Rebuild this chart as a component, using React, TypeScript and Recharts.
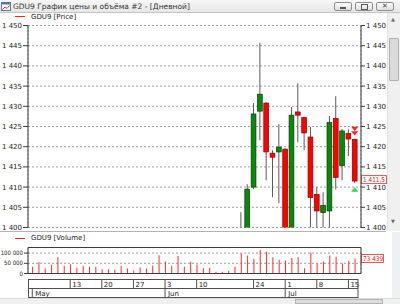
import { ComposedChart, Bar, XAxis, YAxis, CartesianGrid, ReferenceLine } from 'recharts'

// trading days shown in the window (May 2 .. Jul 16)
const dates = [
  '2019-05-02', '2019-05-03', '2019-05-06', '2019-05-07', '2019-05-08', '2019-05-10',
  '2019-05-13', '2019-05-14', '2019-05-15', '2019-05-16', '2019-05-17',
  '2019-05-20', '2019-05-21', '2019-05-22', '2019-05-23', '2019-05-24',
  '2019-05-27', '2019-05-28', '2019-05-29', '2019-05-30', '2019-05-31',
  '2019-06-03', '2019-06-04', '2019-06-05', '2019-06-06', '2019-06-07',
  '2019-06-10', '2019-06-11', '2019-06-13', '2019-06-14',
  '2019-06-17', '2019-06-18', '2019-06-19', '2019-06-20', '2019-06-21',
  '2019-06-24', '2019-06-25', '2019-06-26', '2019-06-27', '2019-06-28',
  '2019-07-01', '2019-07-02', '2019-07-03', '2019-07-04', '2019-07-05',
  '2019-07-08', '2019-07-09', '2019-07-10', '2019-07-11', '2019-07-12',
  '2019-07-15', '2019-07-16',
]

const opens = [
  1283, 1285, 1282, 1287, 1286, 1289, 1288, 1302, 1296, 1298, 1292, 1288, 1284, 1282, 1285, 1284,
  1286, 1285, 1281, 1284, 1296, 1309, 1326, 1328, 1335, 1345, 1338, 1332, 1334, 1345, 1344, 1340,
  1347, 1360, 1393, 1410, 1428.8, 1430.8, 1418.4, 1418.7, 1419.4, 1397, 1428.6, 1427.2, 1422.4, 1408.2,
  1403.7, 1404.1, 1427, 1415.3, 1423.3, 1421.8,
]
const highs = [
  1288, 1287, 1289, 1291, 1290, 1292, 1305, 1304, 1300, 1299, 1294, 1290, 1287, 1287, 1288, 1288,
  1288, 1287, 1286, 1299, 1311, 1330, 1332, 1337, 1348, 1348, 1340, 1336, 1347, 1348, 1346, 1350,
  1366, 1403.8, 1410.7, 1430.8, 1445.7, 1431, 1419.1, 1425.6, 1419.6, 1429.8, 1435.7, 1427.4, 1424.9, 1410,
  1408.7, 1427.6, 1432.5, 1424.4, 1424.3, 1422,
]
const lows = [
  1279, 1280, 1281, 1284, 1283, 1285, 1287, 1294, 1292, 1290, 1286, 1282, 1279, 1280, 1280, 1282,
  1283, 1279, 1280, 1283, 1294, 1308, 1320, 1325, 1331, 1336, 1330, 1325, 1332, 1341, 1337, 1338,
  1345, 1357, 1389, 1409.5, 1421.6, 1411.7, 1407.5, 1406, 1392, 1394, 1421.1, 1419.1, 1398.5, 1398,
  1398.5, 1399, 1409.4, 1411.7, 1417.7, 1411,
]
const closes = [
  1285, 1282, 1287, 1286, 1289, 1288, 1302, 1296, 1298, 1292, 1288, 1284, 1282, 1285, 1284, 1286,
  1285, 1281, 1284, 1296, 1309, 1326, 1328, 1335, 1345, 1338, 1332, 1334, 1345, 1344, 1340, 1347,
  1360, 1393, 1409.5, 1428.1, 1433, 1418.7, 1417.4, 1419.9, 1396, 1427.8, 1427.8, 1423.4, 1407.4, 1404.1,
  1405.5, 1426, 1412.4, 1423.9, 1421.9, 1411.5,
]
const volumes = [
  32800, 55700, 24600, 42600, 80300, 37700, 45900, 27900, 37700, 32800, 32800, 21300, 21300, 18000,
  37700, 24600, 14800, 29500, 24600, 39300, 90100, 59000, 37700, 86900, 32800, 57400, 44300, 26200,
  27900, 8200, 8200, 13100, 32800, 98300, 88500, 72100, 114700, 106500, 80300, 67200, 63900, 75400,
  80300, 26200, 101600, 49200, 59000, 88500, 82000, 49200, 62300, 73439,
]

const weekTicks = [
  '2019-05-13', '2019-05-20', '2019-05-27', '2019-06-03', '2019-06-10',
  '2019-06-24', '2019-07-01', '2019-07-08', '2019-07-15',
]
const monthTicks = ['2019-05-02', '2019-06-03', '2019-07-01']
const monthNames = ['May', 'Jun', 'Jul']

const priceTicks = [1400, 1405, 1410, 1415, 1420, 1425, 1430, 1435, 1440, 1445, 1450]
const volumeTicks = [0, 50000, 100000]

const lastPrice = 1411.5
const lastVolume = 73439
const markDate = '2019-07-16'
const sellMarks = [1424.4, 1423.3]
const buyMarks = [1409.4]

const priceDomain = [1400, 1450]
const volumeDomain = [0, 127500]
const minorPrice = Array.from({ length: 51 }, (_, i) => 1400 + i)
const minorVolume = Array.from({ length: 13 }, (_, i) => i * 10000)

const rows = dates.map((date, i) => ({
  date,
  open: opens[i],
  high: highs[i],
  low: lows[i],
  close: closes[i],
  range: [lows[i], highs[i]],
  volume: volumes[i],
  sell: date === markDate ? sellMarks : null,
  buy: date === markDate ? buyMarks : null,
}))

const FONT = '"DejaVu Sans", sans-serif'
const NARROW = '"DejaVu Sans Condensed", "DejaVu Sans", sans-serif'
const AXIS = '#3c3c3c'
const xPad = { left: 1.1, right: 3.1 }
const tickStyle = { fontSize: 7, fill: '#1c1c1c', fontFamily: FONT }
const volTickStyle = { fontSize: 6, fill: '#1c1c1c', fontFamily: NARROW }

// thousands separated by a no-break space so the tick text never wraps
const spaced = (v: number) => String(v).replace(/\B(?=(\d{3})+(?!\d))/g, '\u00a0')

function Candle(props: any) {
  const { x, y, width, height, payload } = props
  if (x == null || !payload) return null
  const top = Math.min(y, y + height)
  const h = Math.abs(height)
  const k = payload.high > payload.low ? h / (payload.high - payload.low) : 0
  const py = (v: number) => top + (payload.high - v) * k
  const cx = x + width / 2
  const up = payload.close >= payload.open
  const bTop = py(Math.max(payload.open, payload.close))
  const bBot = py(Math.min(payload.open, payload.close))
  return (
    <g>
      <line x1={cx} x2={cx} y1={top} y2={top + h} stroke="#5a5a5a" strokeWidth={1} />
      <rect
        x={cx - 2.4}
        y={bTop}
        width={4.8}
        height={Math.max(bBot - bTop, 1.2)}
        fill={up ? '#078a07' : '#ff0000'}
        stroke={up ? '#0b3d0b' : '#8c0000'}
        strokeWidth={0.7}
      />
      {(payload.sell || []).map((m: number, i: number) => {
        const my = py(m)
        return <polygon key={'s' + i} points={`${cx - 3.6},${my - 2.2} ${cx + 3.6},${my - 2.2} ${cx},${my + 2.2}`} fill="#ff2020" />
      })}
      {(payload.buy || []).map((m: number, i: number) => {
        const my = py(m)
        return <polygon key={'b' + i} points={`${cx - 3.6},${my + 2.2} ${cx + 3.6},${my + 2.2} ${cx},${my - 2.2}`} fill="#22dd44" />
      })}
    </g>
  )
}

function Tag({ viewBox, text, w, lift = 0 }: any) {
  if (!viewBox) return null
  const x = viewBox.x + viewBox.width + 0.5
  const y = viewBox.y - 4 - lift
  return (
    <g>
      <rect x={x} y={y} width={w} height={8} fill="#fff" stroke="#e03030" strokeWidth={0.8} />
      <text x={x + 1.5} y={y + 6.4} fontSize={6.4} fontFamily={NARROW} fill="#e02020">{text}</text>
    </g>
  )
}

function DayTick({ x, y, payload }: any) {
  return (
    <g>
      <line x1={x} x2={x} y1={y} y2={y + 9} stroke="#505050" />
      <text x={x + 2} y={y + 7.3} fontSize={7} fontFamily={FONT} fill="#1c1c1c">{Number(payload.value.slice(8))}</text>
    </g>
  )
}

function MonthTick({ x, y, payload }: any) {
  return (
    <g>
      <line x1={x} x2={x} y1={y} y2={y + 9} stroke="#505050" />
      <text x={x + 3} y={y + 7.3} fontSize={7} fontFamily={FONT} fill="#1c1c1c">
        {monthNames[monthTicks.indexOf(payload.value)]}
      </text>
    </g>
  )
}

function Btn({ left, children }: any) {
  return (
    <div style={{
      position: 'absolute', left, top: 2, width: 18, height: 9, boxSizing: 'border-box',
      border: '1px solid #8e8e8e', borderRadius: 2, background: 'linear-gradient(#fdfdfd, #dedede)',
      display: 'flex', alignItems: 'center', justifyContent: 'center',
    }}>{children}</div>
  )
}

export default function App() {
  return (
    <div style={{ position: 'fixed', left: 0, top: 0, width: 400, height: 304, background: '#fff', overflow: 'hidden', fontFamily: FONT }}>
      {/* price panel */}
      <div style={{ position: 'absolute', left: 0, top: 0 }}>
        <ComposedChart width={400} height={232} data={rows} margin={{ top: 25.5, right: 0, bottom: 4.5, left: 0 }}>
          <CartesianGrid stroke="#9c9c9c" strokeDasharray="2 2" />
          <XAxis dataKey="date" height={0} ticks={weekTicks} interval={0} tick={false} tickLine={false} axisLine={{ stroke: AXIS }} padding={xPad} />
          <YAxis yAxisId="lm" width={0} domain={priceDomain} ticks={minorPrice} interval={0} tick={false} tickSize={2.5} tickLine={{ stroke: AXIS }} axisLine={false} allowDataOverflow />
          <YAxis domain={priceDomain} ticks={priceTicks} interval={0} width={28} tickSize={5} tickMargin={1} tick={tickStyle} tickFormatter={spaced} tickLine={{ stroke: AXIS }} axisLine={{ stroke: AXIS }} allowDataOverflow />
          <YAxis yAxisId="rm" orientation="right" width={0} domain={priceDomain} ticks={minorPrice} interval={0} tick={false} tickSize={2.5} tickLine={{ stroke: AXIS }} axisLine={false} allowDataOverflow />
          <YAxis yAxisId="r" orientation="right" domain={priceDomain} ticks={priceTicks} interval={0} width={39} tickSize={4} tickMargin={1} tick={tickStyle} tickFormatter={spaced} tickLine={{ stroke: AXIS }} axisLine={{ stroke: AXIS }} allowDataOverflow />
          <Bar dataKey="range" shape={<Candle />} isAnimationActive={false} />
          <ReferenceLine y={lastPrice} strokeOpacity={0} label={(p: any) => <Tag viewBox={p.viewBox} text={'1\u00a0411,5'} w={25} lift={1.4} />} />
        </ComposedChart>
      </div>

      {/* volume panel */}
      <div style={{ position: 'absolute', left: 0, top: 232 }}>
        <ComposedChart width={400} height={68} data={rows} margin={{ top: 15.5, right: 0, bottom: 2.5, left: 0 }}>
          <CartesianGrid stroke="#9c9c9c" strokeDasharray="2 2" />
          <XAxis dataKey="date" height={6} ticks={weekTicks} interval={0} tick={false} tickLine={false} axisLine={{ stroke: AXIS }} padding={xPad} />
          <XAxis xAxisId="day" dataKey="date" height={9} ticks={weekTicks} interval={0} tick={<DayTick />} tickSize={0} tickMargin={0} tickLine={false} axisLine={false} padding={xPad} />
          <XAxis xAxisId="month" dataKey="date" height={9} ticks={monthTicks} interval={0} tick={<MonthTick />} tickSize={0} tickMargin={0} tickLine={false} axisLine={false} padding={xPad} />
          <YAxis yAxisId="lm" width={0} domain={volumeDomain} ticks={minorVolume} interval={0} tick={false} tickSize={2.5} tickLine={{ stroke: AXIS }} axisLine={false} />
          <YAxis domain={volumeDomain} ticks={volumeTicks} interval={0} width={28} tickSize={4} tickMargin={1} tick={volTickStyle} tickFormatter={spaced} tickLine={{ stroke: AXIS }} axisLine={{ stroke: AXIS }} />
          <YAxis yAxisId="rm" orientation="right" width={0} domain={volumeDomain} ticks={minorVolume} interval={0} tick={false} tickSize={2.5} tickLine={{ stroke: AXIS }} axisLine={false} />
          <YAxis yAxisId="r" orientation="right" domain={volumeDomain} ticks={volumeTicks} interval={0} width={39} tickSize={4} tickMargin={1} tick={volTickStyle} tickFormatter={spaced} tickLine={{ stroke: AXIS }} axisLine={{ stroke: AXIS }} />
          <ReferenceLine y={volumeDomain[1]} stroke={AXIS} />
          <Bar dataKey="volume" fill="#ff2a2a" barSize={1} isAnimationActive={false} />
          <ReferenceLine y={lastVolume} strokeOpacity={0} label={(p: any) => <Tag viewBox={p.viewBox} text={spaced(lastVolume)} w={22} />} />
        </ComposedChart>
      </div>

      {/* date scale frame */}
      <svg style={{ position: 'absolute', left: 0, top: 0 }} width={400} height={304}>
        <rect x={28.5} y={279.5} width={329.5} height={18} fill="none" stroke="#505050" />
        <line x1={28.5} x2={358} y1={288.5} y2={288.5} stroke="#505050" />
        <line x1={0} x2={386} y1={231.5} y2={231.5} stroke="#b4b4b4" />
      </svg>

      {/* title bar */}
      <div style={{ position: 'absolute', left: 0, top: 0, width: 400, height: 13, background: 'linear-gradient(#f7f7f7, #e6e6e6)', borderBottom: '1px solid #c4c4c4', boxSizing: 'border-box' }}>
        <svg style={{ position: 'absolute', left: 1, top: 2 }} width={10} height={9}>
          <rect x={0.5} y={0.5} width={9} height={8} fill="#fff" stroke="#5b74a8" />
          <rect x={0.5} y={0.5} width={9} height={2} fill="#5b74a8" />
          <polyline points="1.5,7.5 4,5 6,6.5 8.5,3.5" fill="none" stroke="#e03030" />
        </svg>
        <div style={{ position: 'absolute', left: 13, top: 2, fontSize: 7.5, color: '#333', whiteSpace: 'nowrap', lineHeight: '9px' }}>
          GDU9 График цены и объёма #2 - [Дневной]
        </div>
        <Btn left={334}><div style={{ width: 6, height: 2, background: '#555', marginTop: 3 }} /></Btn>
        <Btn left={355}><div style={{ width: 5, height: 4, border: '1px solid #555' }} /></Btn>
        <Btn left={376}><span style={{ fontSize: 7, color: '#444', lineHeight: '7px' }}>✕</span></Btn>
      </div>

      {/* legends */}
      <div style={{ position: 'absolute', left: 15, top: 16, width: 10, height: 1, background: '#ff2020' }} />
      <div style={{ position: 'absolute', left: 31, top: 12.5, fontSize: 7, color: '#222', whiteSpace: 'nowrap', lineHeight: '9px' }}>GDU9 [Price]</div>
      <div style={{ position: 'absolute', left: 15, top: 238, width: 10, height: 1, background: '#ff2020' }} />
      <div style={{ position: 'absolute', left: 31, top: 234, fontSize: 7, color: '#222', whiteSpace: 'nowrap', lineHeight: '9px' }}>GDU9 [Volume]</div>

      {/* right scrollbar */}
      <div style={{ position: 'absolute', left: 387, top: 13, width: 13, height: 218, background: '#f0f0f0', borderLeft: '1px solid #e2e2e2', boxSizing: 'border-box' }}>
        <div style={{ position: 'absolute', left: 3, top: 3, fontSize: 5, color: '#666' }}>▲</div>
        <div style={{ position: 'absolute', left: 1, top: 25, width: 8, height: 41, background: '#dadada', border: '1px solid #b0b0b0', borderRadius: 1 }} />
        <div style={{ position: 'absolute', left: 3, top: 205, fontSize: 5, color: '#666' }}>▼</div>
      </div>
      <div style={{ position: 'absolute', left: 392, top: 232, width: 8, height: 66, background: '#eef0f4' }} />

      {/* bottom scrollbar */}
      <div style={{ position: 'absolute', left: 0, top: 298, width: 400, height: 6, background: '#f0f0f0', borderTop: '1px solid #dcdcdc', boxSizing: 'border-box' }}>
        <div style={{ position: 'absolute', left: 295, top: 0, width: 88, height: 5, background: '#dcdcdc', border: '1px solid #b4b4b4', boxSizing: 'border-box' }} />
      </div>
    </div>
  )
}
